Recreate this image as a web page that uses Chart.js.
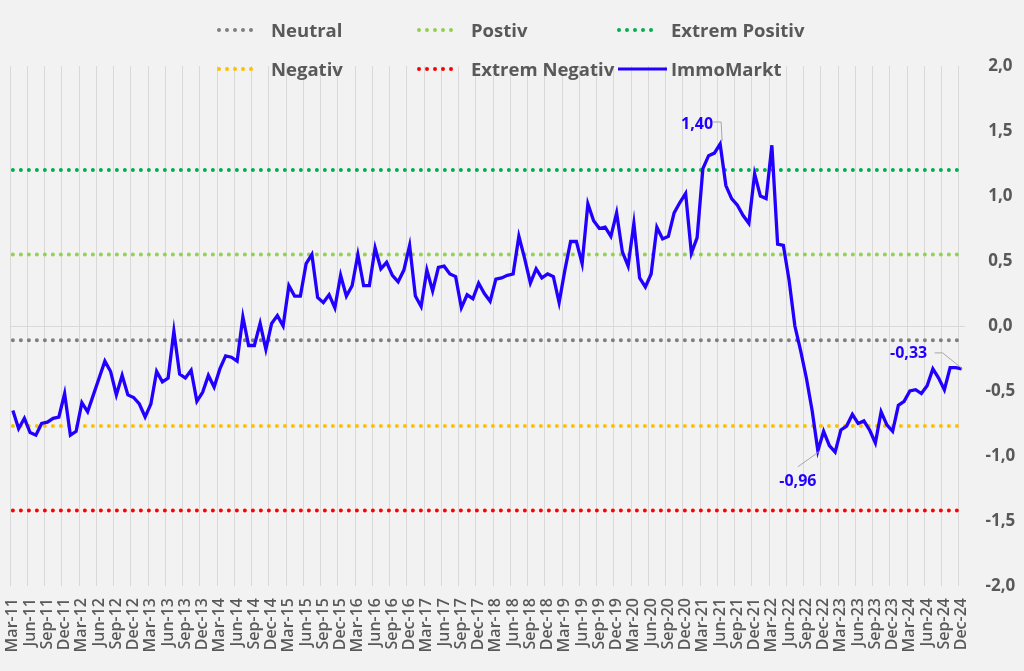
<!DOCTYPE html>
<html>
<head>
<meta charset="utf-8">
<script src="https://cdn.jsdelivr.net/npm/chart.js@4.4.1/dist/chart.umd.min.js"></script>
<style>
  html, body { margin: 0; padding: 0; background: #f2f2f2; }
  #wrap { position: relative; width: 1024px; height: 671px; }
  #legend {
    position: absolute; left: 217px; top: 10px;
    display: grid; grid-template-columns: 200px 200px auto; grid-auto-rows: 39px;
    font: 700 18.5px 'Open Sans', sans-serif; color: #595959;
  }
  #legend .item { display: flex; align-items: center; white-space: nowrap; }
  #legend svg { margin-right: 10px; }
  #legend svg.solid { margin-left: 1px; margin-right: 4px; }
</style>
</head>
<body>
<div id="wrap">
  <canvas id="chart"></canvas>
  <div id="legend"></div>
</div>
<script>
const MONTHS = ['Jan', 'Feb', 'Mar', 'Apr', 'May', 'Jun', 'Jul', 'Aug', 'Sep', 'Oct', 'Nov', 'Dec'];
const START_YEAR = 2011;
const START_MONTH = 2; // Mar-11

// ImmoMarkt index, monthly Mar-11 .. Dec-24
const immoMarkt = [
  -0.65, -0.79, -0.71, -0.82, -0.84, -0.75, -0.74, -0.71, -0.70, -0.52,
  -0.84, -0.81, -0.59, -0.66, -0.53, -0.40, -0.27, -0.35, -0.53, -0.38,
  -0.53, -0.55, -0.60, -0.70, -0.60, -0.35, -0.43, -0.40, -0.04, -0.37,
  -0.40, -0.34, -0.58, -0.51, -0.38, -0.47, -0.33, -0.23, -0.24, -0.27,
  0.07, -0.15, -0.15, 0.02, -0.18, 0.02, 0.08, 0.00, 0.31, 0.23,
  0.23, 0.48, 0.55, 0.22, 0.18, 0.24, 0.14, 0.39, 0.23, 0.31,
  0.55, 0.31, 0.31, 0.60, 0.44, 0.49, 0.39, 0.34, 0.43, 0.62,
  0.23, 0.15, 0.43, 0.27, 0.45, 0.46, 0.40, 0.38, 0.14, 0.24,
  0.21, 0.33, 0.25, 0.19, 0.36, 0.37, 0.39, 0.40, 0.69, 0.52,
  0.33, 0.44, 0.37, 0.40, 0.38, 0.18, 0.43, 0.65, 0.65, 0.48,
  0.94, 0.81, 0.75, 0.76, 0.69, 0.87, 0.57, 0.46, 0.79, 0.37,
  0.30, 0.40, 0.76, 0.67, 0.69, 0.87, 0.95, 1.02, 0.56, 0.68,
  1.21, 1.31, 1.33, 1.40, 1.08, 0.98, 0.93, 0.85, 0.79, 1.17,
  1.00, 0.98, 1.39, 0.63, 0.62, 0.35, 0.00, -0.19, -0.40, -0.65,
  -0.96, -0.81, -0.92, -0.97, -0.80, -0.77, -0.68, -0.75, -0.73, -0.80,
  -0.90, -0.66, -0.76, -0.81, -0.61, -0.58, -0.50, -0.49, -0.52, -0.46,
  -0.33, -0.40, -0.49, -0.32, -0.32, -0.33,
];

// reference levels
const levelNames = ['Neutral', 'Postiv', 'Extrem Positiv', 'Negativ', 'Extrem Negativ'];
const levelValues = [-0.11, 0.55, 1.20, -0.77, -1.42];
const levelColors = ['#7f7f7f', '#92d050', '#00b050', '#ffc000', '#ff0000'];

const lineColor = '#2200ff';
const labelledPoints = [123, 140, 165];

const categories = immoMarkt.map((v, i) => {
  const m = START_MONTH + i;
  return `${MONTHS[m % 12]}-${String((START_YEAR + Math.floor(m / 12)) % 100).padStart(2, '0')}`;
});

const fmt = (v, d) => v.toFixed(d).replace('.', ',');

const datasets = levelNames.map((name, idx) => ({
  label: name,
  data: [
    { x: categories[0], y: levelValues[idx] },
    { x: categories[categories.length - 1], y: levelValues[idx] },
  ],
  borderColor: levelColors[idx],
  borderWidth: 4,
  borderDash: [0, 8],
  borderCapStyle: 'round',
  pointRadius: 0,
  order: 1,
}));
datasets.push({
  label: 'ImmoMarkt',
  data: immoMarkt,
  borderColor: lineColor,
  borderWidth: 3.3,
  pointRadius: 0,
  tension: 0,
  order: 0,
});

// where each data label sits relative to its point, and the leader line to it
const labelPlacement = {
  123: { dx: -23, dy: -20, lead: [[-7, -22], [1, -22], [2, -3]] },
  140: { dx: -20, dy: 31, lead: [[1, 1], [-20, 16]] },
  165: { dx: -53, dy: -15, lead: [[1, 0], [-19, -16], [-27, -16]] },
};

const dataLabels = {
  id: 'dataLabels',
  afterDatasetsDraw(chart) {
    const { ctx } = chart;
    const meta = chart.getDatasetMeta(chart.data.datasets.length - 1);
    ctx.save();
    labelledPoints.forEach((idx) => {
      const pt = meta.data[idx];
      const p = labelPlacement[idx];
      ctx.strokeStyle = '#a6a6a6';
      ctx.lineWidth = 1;
      ctx.beginPath();
      p.lead.forEach(([lx, ly], k) => {
        if (k === 0) ctx.moveTo(pt.x + lx, pt.y + ly);
        else ctx.lineTo(pt.x + lx, pt.y + ly);
      });
      ctx.stroke();
      ctx.fillStyle = lineColor;
      ctx.font = "bold 16px 'Open Sans', sans-serif";
      ctx.textAlign = 'center';
      ctx.textBaseline = 'middle';
      ctx.fillText(fmt(immoMarkt[idx], 2), pt.x + p.dx, pt.y + p.dy);
    });
    ctx.restore();
  },
};

Chart.defaults.font.family = "'Open Sans', sans-serif";
Chart.defaults.color = '#595959';

const chart = new Chart(document.getElementById('chart'), {
  type: 'line',
  data: { labels: categories, datasets },
  options: {
    responsive: true,
    maintainAspectRatio: false,
    animation: false,
    layout: { padding: { top: 66, left: 10, right: 0, bottom: 0 } },
    plugins: {
      legend: { display: false },
      tooltip: { enabled: false },
    },
    scales: {
      x: {
        type: 'category',
        offset: true,
        grid: {
          offset: true,
          drawTicks: false,
          lineWidth: 1,
          color: (c) => (c.index % 3 === 0 && c.index < categories.length ? '#d9d9d9' : 'transparent'),
        },
        border: { display: false },
        ticks: {
          autoSkip: false,
          minRotation: 90,
          maxRotation: 90,
          padding: 12,
          font: { size: 16, weight: 600 },
          // every month is a category, only each third one gets a label
          callback(val, i) { return i % 3 === 0 ? this.getLabelForValue(val) : ''; },
        },
        afterFit(scale) { scale.height = 85; },
      },
      y: {
        position: 'right',
        min: -2,
        max: 2,
        grid: {
          drawTicks: false,
          color: (c) => (c.tick && c.tick.value === 0 ? '#d9d9d9' : 'transparent'),
        },
        border: { display: false },
        ticks: {
          stepSize: 0.5,
          padding: 21,
          crossAlign: 'center',
          font: { size: 17, weight: 'bold' },
          callback(val) { return fmt(val, 1); },
        },
        afterFit(scale) { scale.width = 59.5; },
      },
    },
  },
  plugins: [dataLabels],
});

// html legend built from the chart datasets
const legendEl = document.getElementById('legend');
chart.data.datasets.forEach((ds) => {
  const item = document.createElement('div');
  item.className = 'item';
  const dotted = ds.borderDash && ds.borderDash.length;
  const marker = dotted
    ? `<svg width="44" height="8"><line x1="2" y1="4" x2="42" y2="4" stroke="${ds.borderColor}"
        stroke-width="4" stroke-linecap="round" stroke-dasharray="0 8"/></svg>`
    : `<svg class="solid" width="49" height="8"><line x1="0" y1="4" x2="49" y2="4" stroke="${ds.borderColor}"
        stroke-width="3"/></svg>`;
  item.innerHTML = `${marker}<span>${ds.label}</span>`;
  legendEl.appendChild(item);
});
</script>
</body>
</html>
